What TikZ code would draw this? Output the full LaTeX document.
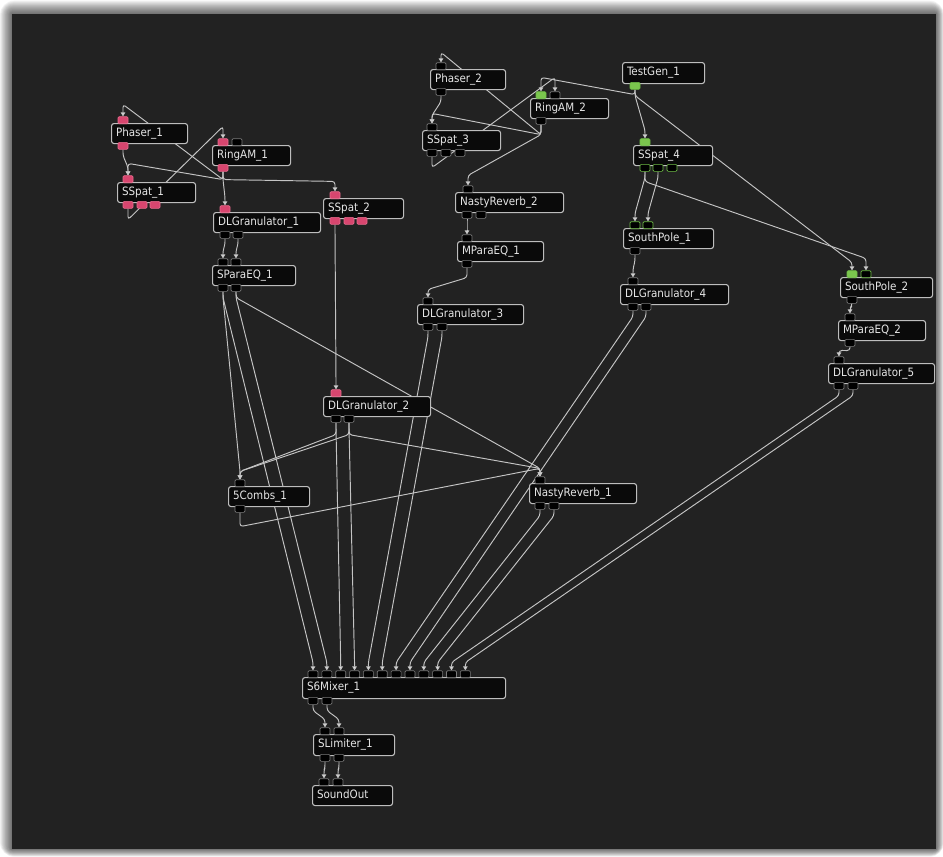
\documentclass[tikz,border=0pt]{standalone}
\usepackage{fontspec}
\newfontfamily\modfont{DejaVu Sans Condensed}
\usetikzlibrary{calc,arrows.meta}

\definecolor{panel}{HTML}{222222}
\definecolor{boxfill}{HTML}{0A0A0A}
\definecolor{boxline}{HTML}{BDBDBD}
\definecolor{boxtext}{HTML}{E6E6E6}
\definecolor{wirecol}{HTML}{C4C4C4}
\definecolor{portline}{HTML}{7A7A7A}
\definecolor{pinkfill}{HTML}{D8466F}
\definecolor{pinkline}{HTML}{E86A8C}
\definecolor{greenfill}{HTML}{7BC64E}
\definecolor{greenline}{HTML}{6DBB45}

\pgfdeclarelayer{backdrop}
\pgfdeclarelayer{wires}
\pgfsetlayers{backdrop,wires,main}

\tikzset{
  box/.style={draw=boxline, fill=boxfill, rounded corners=2.5pt, line width=1.1pt,
    text=boxtext, font=\modfont\fontsize{11.5}{13}\selectfont, anchor=north west,
    inner xsep=4.5pt, inner ysep=0pt, align=left, text height=8pt, text depth=2.5pt},
  port/.style={draw=portline, fill=black, rounded corners=1.2pt, line width=0.6pt,
    minimum width=10pt, minimum height=7pt, inner sep=0pt},
  pinkport/.style={port, fill=pinkfill, draw=pinkline},
  greenport/.style={port, fill=greenfill, draw=greenline},
  greenring/.style={port, fill=black, draw=greenline},
  wire/.style={draw=wirecol, line width=0.95pt, rounded corners=3pt,
    -{Triangle[length=4pt,width=4.5pt,fill=white!90!wirecol]}},
}

% a module box: name, left, top, right, bottom, label
\newcommand\modbox[6]{%
  \pgfmathsetmacro\mbw{#4-#2-9}%
  \pgfmathsetmacro\mbh{#5-#3}%
  \node[box, text width=\mbw pt, minimum height=\mbh pt] (#1) at (#2,#3) {#6};}
% input port sitting on a box top, output port hanging under a box bottom
\newcommand\iport[4][port]{\node[#1, anchor=south] (#2) at (#3,#4+1) {};}
\newcommand\oport[4][port]{\node[#1, anchor=north] (#2) at (#3,#4-1) {};}
% patch cord: from output, stub down, straight run, drop into input
\newcommand\wirex[4]{\draw[wire] (#1.south) -- ++(0,#3) -- ($(#2.north)+(0,-#4)$) -- (#2.north);}
\newcommand\wire[2]{\wirex{#1}{#2}{6}{8}}

\begin{document}
\begin{tikzpicture}[x=1pt,y=-1pt]
\useasboundingbox (0,0) rectangle (943,857);

\begin{pgfonlayer}{backdrop}
  \fill[white] (0,0) rectangle (943,857);
  % soft drop shadow around the canvas
  \foreach \i in {1,...,14}
    \fill[black, opacity=0.05, rounded corners=\i pt]
      ({12-\i*0.85},{14-\i*0.95}) rectangle ({936+\i*0.55},{849+\i*0.55});
  \fill[panel] (12,14) rectangle (936,849);
\end{pgfonlayer}

% ---- modules ----
\modbox{ph1}{111}{123}{187}{143}{Phaser\_1}
\modbox{ss1}{117}{182}{195}{202}{SSpat\_1}
\modbox{ra1}{212}{145}{290}{165}{RingAM\_1}
\modbox{dg1}{213}{212}{320}{232}{DLGranulator\_1}
\modbox{ss2}{323}{198}{403}{218}{SSpat\_2}
\modbox{pq1}{212}{265}{295}{285}{SParaEQ\_1}
\modbox{ph2}{430}{69}{505}{89}{Phaser\_2}
\modbox{ra2}{530}{98}{608}{118}{RingAM\_2}
\modbox{ss3}{422}{130}{500}{150}{SSpat\_3}
\modbox{tg1}{622}{62}{704}{83}{TestGen\_1}
\modbox{ss4}{633}{145}{712}{165}{SSpat\_4}
\modbox{nr2}{455}{192}{563}{212}{NastyReverb\_2}
\modbox{mq1}{457}{241}{543}{261}{MParaEQ\_1}
\modbox{dg3}{417}{304}{523}{324}{DLGranulator\_3}
\modbox{sp1}{623}{228}{713}{248}{SouthPole\_1}
\modbox{dg4}{620}{284}{728}{304}{DLGranulator\_4}
\modbox{sp2}{840}{277}{932}{297}{SouthPole\_2}
\modbox{mq2}{838}{320}{925}{340}{MParaEQ\_2}
\modbox{dg5}{828}{363}{934}{383}{DLGranulator\_5}
\modbox{dg2}{323}{396}{430}{416}{DLGranulator\_2}
\modbox{cb1}{228}{486}{309}{506}{5Combs\_1}
\modbox{nr1}{529}{483}{636}{503}{NastyReverb\_1}
\modbox{mx1}{302}{677}{505}{698}{S6Mixer\_1}
\modbox{lm1}{313}{734}{394}{755}{SLimiter\_1}
\modbox{so1}{312}{785}{392}{805}{SoundOut}

% ---- ports ----
\iport[pinkport]{ph1-i1}{123}{123} \oport[pinkport]{ph1-o1}{123}{143}
\iport[pinkport]{ss1-i1}{128}{182}
\oport[pinkport]{ss1-o1}{128}{202} \oport[pinkport]{ss1-o2}{142}{202} \oport[pinkport]{ss1-o3}{155}{202}
\iport[pinkport]{ra1-i1}{223}{145} \iport{ra1-i2}{237}{145} \oport[pinkport]{ra1-o1}{223}{165}
\iport[pinkport]{dg1-i1}{225}{212} \oport{dg1-o1}{225}{232} \oport{dg1-o2}{238}{232}
\iport[pinkport]{ss2-i1}{335}{198}
\oport[pinkport]{ss2-o1}{335}{218} \oport[pinkport]{ss2-o2}{349}{218} \oport[pinkport]{ss2-o3}{362}{218}
\iport{pq1-i1}{223}{265} \iport{pq1-i2}{236}{265} \oport{pq1-o1}{223}{285} \oport{pq1-o2}{236}{285}
\iport{ph2-i1}{441}{69} \oport{ph2-o1}{441}{89}
\iport[greenport]{ra2-i1}{541}{98} \iport{ra2-i2}{555}{98} \oport{ra2-o1}{541}{118}
\iport{ss3-i1}{432}{130}
\oport{ss3-o1}{432}{150} \oport{ss3-o2}{446}{150} \oport{ss3-o3}{460}{150}
\oport[greenport]{tg1-o1}{635}{83}
\iport[greenport]{ss4-i1}{645}{145}
\oport[greenring]{ss4-o1}{645}{165} \oport[greenring]{ss4-o2}{658}{165} \oport[greenring]{ss4-o3}{672}{165}
\iport{nr2-i1}{468}{192} \oport{nr2-o1}{467}{212} \oport{nr2-o2}{481}{212}
\iport{mq1-i1}{467}{241} \oport{mq1-o1}{467}{261}
\iport{dg3-i1}{428}{304} \oport{dg3-o1}{428}{324} \oport{dg3-o2}{442}{324}
\iport[greenring]{sp1-i1}{635}{228} \iport[greenring]{sp1-i2}{648}{228} \oport{sp1-o1}{635}{248}
\iport{dg4-i1}{633}{284} \oport{dg4-o1}{633}{304} \oport{dg4-o2}{646}{304}
\iport[greenport]{sp2-i1}{852}{277} \iport[greenring]{sp2-i2}{866}{277} \oport{sp2-o1}{852}{297}
\iport{mq2-i1}{850}{320} \oport{mq2-o1}{850}{340}
\iport{dg5-i1}{839}{363} \oport{dg5-o1}{839}{383} \oport{dg5-o2}{853}{383}
\iport[pinkport]{dg2-i1}{336}{396} \oport{dg2-o1}{336}{416} \oport{dg2-o2}{349}{416}
\iport{cb1-i1}{240}{486} \oport{cb1-o1}{240}{506}
\iport{nr1-i1}{540}{483} \oport{nr1-o1}{540}{503} \oport{nr1-o2}{554}{503}
\foreach \k in {1,...,12}
  \node[port, anchor=south] (mx1-i\k) at ({313+13.85*(\k-1)},678) {};
\oport{mx1-o1}{313}{698} \oport{mx1-o2}{327}{698}
\iport{lm1-i1}{325}{734} \iport{lm1-i2}{339}{734} \oport{lm1-o1}{325}{755} \oport{lm1-o2}{339}{755}
\iport{so1-i1}{324}{785} \iport{so1-i2}{338}{785}

% ---- patch cords ----
\begin{pgfonlayer}{wires}
  % left chain
  \wire{ph1-o1}{ss1-i1}
  \wirex{ss1-o1}{ra1-i1}{11}{12}
  \wirex{ra1-o1}{ph1-i1}{8}{12}
  \wirex{ra1-o1}{ss1-i1}{8}{12}
  \wirex{ra1-o1}{ss2-i1}{8}{10}
  \wirex{ra1-o1}{dg1-i1}{8}{8}
  \wire{dg1-o1}{pq1-i1}
  \wire{dg1-o2}{pq1-i2}
  \wire{ss2-o1}{dg2-i1}
  \wire{pq1-o1}{cb1-i1}
  \wire{pq1-o1}{mx1-i1}
  \wire{pq1-o2}{mx1-i2}
  \wire{pq1-o2}{nr1-i1}
  \wire{dg2-o1}{mx1-i3}
  \wire{dg2-o2}{mx1-i4}
  \wirex{dg2-o1}{cb1-i1}{12}{8}
  \wirex{dg2-o2}{cb1-i1}{12}{8}
  \wirex{dg2-o2}{nr1-i1}{12}{8}
  \wirex{cb1-o1}{nr1-i1}{14}{8}
  \wire{nr1-o1}{mx1-i9}
  \wire{nr1-o2}{mx1-i10}
  % middle chain
  \wire{ph2-o1}{ss3-i1}
  \wirex{ss3-o1}{ra2-i2}{11}{14}
  \wirex{tg1-o1}{ra2-i1}{5}{14}
  \wirex{ra2-o1}{ph2-i1}{10}{10}
  \wirex{ra2-o1}{ss3-i1}{10}{10}
  \wirex{ra2-o1}{nr2-i1}{10}{10}
  \wire{nr2-o1}{mq1-i1}
  \wirex{mq1-o1}{dg3-i1}{10}{8}
  \wire{dg3-o1}{mx1-i5}
  \wire{dg3-o2}{mx1-i6}
  % right chain
  \wire{tg1-o1}{ss4-i1}
  \wire{tg1-o1}{sp2-i1}
  \wire{ss4-o1}{sp1-i1}
  \wire{ss4-o2}{sp1-i2}
  \wirex{ss4-o1}{sp2-i2}{10}{12}
  \wire{sp1-o1}{dg4-i1}
  \wire{dg4-o1}{mx1-i7}
  \wire{dg4-o2}{mx1-i8}
  \wirex{sp2-o1}{mq2-i1}{2}{5}
  \wirex{mq2-o1}{dg5-i1}{4}{6}
  \wire{dg5-o1}{mx1-i11}
  \wire{dg5-o2}{mx1-i12}
  % output stage
  \wire{mx1-o1}{lm1-i1}
  \wire{mx1-o2}{lm1-i2}
  \wire{lm1-o1}{so1-i1}
  \wire{lm1-o2}{so1-i2}
\end{pgfonlayer}
\end{tikzpicture}
\end{document}
